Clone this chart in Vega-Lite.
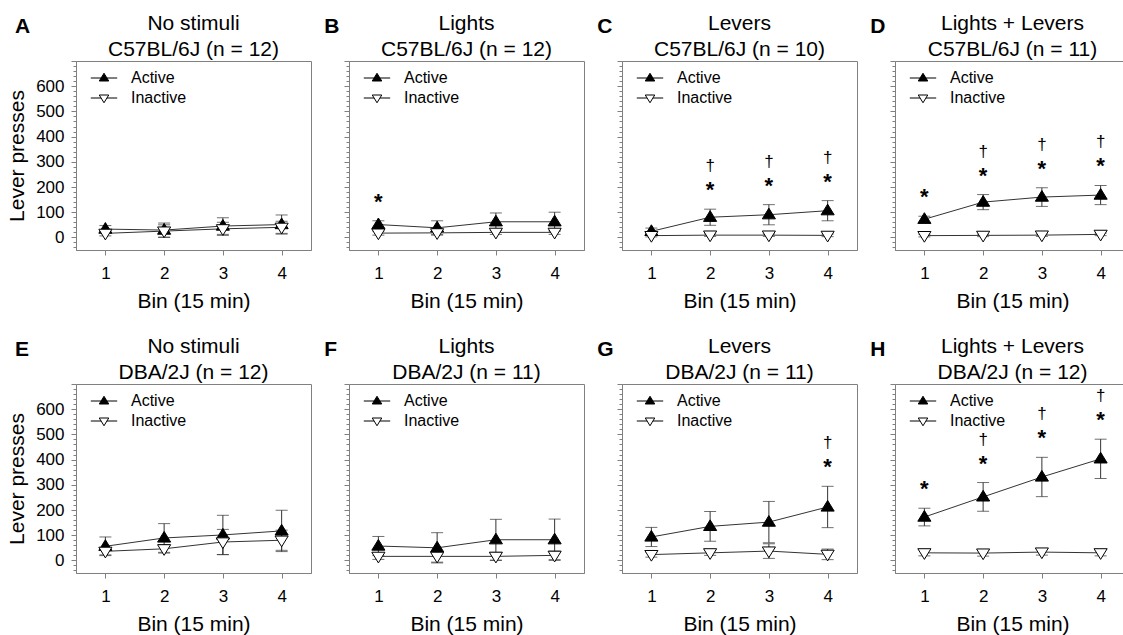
{
  "$schema": "https://vega.github.io/schema/vega-lite/v6.json",
  "padding": {"left": 6, "top": 12, "right": 0, "bottom": 0},
  "background": "white",
  "datasets": {
    "presses": [
      {"panel": "A", "bin": 1, "lever": "Active", "mean": 33, "sem": 14},
      {"panel": "A", "bin": 2, "lever": "Active", "mean": 29, "sem": 28},
      {"panel": "A", "bin": 3, "lever": "Active", "mean": 45, "sem": 33},
      {"panel": "A", "bin": 4, "lever": "Active", "mean": 51, "sem": 38},
      {"panel": "A", "bin": 1, "lever": "Inactive", "mean": 16, "sem": 10},
      {"panel": "A", "bin": 2, "lever": "Inactive", "mean": 25, "sem": 25},
      {"panel": "A", "bin": 3, "lever": "Inactive", "mean": 34, "sem": 26},
      {"panel": "A", "bin": 4, "lever": "Inactive", "mean": 40, "sem": 24},
      {"panel": "B", "bin": 1, "lever": "Active", "mean": 51, "sem": 15, "star": "*"},
      {"panel": "B", "bin": 2, "lever": "Active", "mean": 38, "sem": 28},
      {"panel": "B", "bin": 3, "lever": "Active", "mean": 62, "sem": 35},
      {"panel": "B", "bin": 4, "lever": "Active", "mean": 62, "sem": 38},
      {"panel": "B", "bin": 1, "lever": "Inactive", "mean": 17, "sem": 8},
      {"panel": "B", "bin": 2, "lever": "Inactive", "mean": 18, "sem": 8},
      {"panel": "B", "bin": 3, "lever": "Inactive", "mean": 20, "sem": 8},
      {"panel": "B", "bin": 4, "lever": "Inactive", "mean": 20, "sem": 8},
      {"panel": "C", "bin": 1, "lever": "Active", "mean": 24, "sem": 13},
      {"panel": "C", "bin": 2, "lever": "Active", "mean": 80, "sem": 32, "star": "*", "dagger": "†"},
      {"panel": "C", "bin": 3, "lever": "Active", "mean": 90, "sem": 40, "star": "*", "dagger": "†"},
      {"panel": "C", "bin": 4, "lever": "Active", "mean": 106, "sem": 40, "star": "*", "dagger": "†"},
      {"panel": "C", "bin": 1, "lever": "Inactive", "mean": 7, "sem": 5},
      {"panel": "C", "bin": 2, "lever": "Inactive", "mean": 9, "sem": 5},
      {"panel": "C", "bin": 3, "lever": "Inactive", "mean": 9, "sem": 5},
      {"panel": "C", "bin": 4, "lever": "Inactive", "mean": 8, "sem": 5},
      {"panel": "D", "bin": 1, "lever": "Active", "mean": 72, "sem": 12, "star": "*"},
      {"panel": "D", "bin": 2, "lever": "Active", "mean": 140, "sem": 30, "star": "*", "dagger": "†"},
      {"panel": "D", "bin": 3, "lever": "Active", "mean": 160, "sem": 37, "star": "*", "dagger": "†"},
      {"panel": "D", "bin": 4, "lever": "Active", "mean": 168, "sem": 38, "star": "*", "dagger": "†"},
      {"panel": "D", "bin": 1, "lever": "Inactive", "mean": 7, "sem": 5},
      {"panel": "D", "bin": 2, "lever": "Inactive", "mean": 8, "sem": 5},
      {"panel": "D", "bin": 3, "lever": "Inactive", "mean": 9, "sem": 5},
      {"panel": "D", "bin": 4, "lever": "Inactive", "mean": 12, "sem": 5},
      {"panel": "E", "bin": 1, "lever": "Active", "mean": 56, "sem": 37},
      {"panel": "E", "bin": 2, "lever": "Active", "mean": 89, "sem": 57},
      {"panel": "E", "bin": 3, "lever": "Active", "mean": 101, "sem": 78},
      {"panel": "E", "bin": 4, "lever": "Active", "mean": 117, "sem": 82},
      {"panel": "E", "bin": 1, "lever": "Inactive", "mean": 36, "sem": 14},
      {"panel": "E", "bin": 2, "lever": "Inactive", "mean": 46, "sem": 17},
      {"panel": "E", "bin": 3, "lever": "Inactive", "mean": 73, "sem": 50},
      {"panel": "E", "bin": 4, "lever": "Inactive", "mean": 80, "sem": 40},
      {"panel": "F", "bin": 1, "lever": "Active", "mean": 57, "sem": 38},
      {"panel": "F", "bin": 2, "lever": "Active", "mean": 50, "sem": 60},
      {"panel": "F", "bin": 3, "lever": "Active", "mean": 82, "sem": 81},
      {"panel": "F", "bin": 4, "lever": "Active", "mean": 82, "sem": 82},
      {"panel": "F", "bin": 1, "lever": "Inactive", "mean": 16, "sem": 12},
      {"panel": "F", "bin": 2, "lever": "Inactive", "mean": 16, "sem": 23},
      {"panel": "F", "bin": 3, "lever": "Inactive", "mean": 16, "sem": 16},
      {"panel": "F", "bin": 4, "lever": "Inactive", "mean": 20, "sem": 17},
      {"panel": "G", "bin": 1, "lever": "Active", "mean": 93, "sem": 38},
      {"panel": "G", "bin": 2, "lever": "Active", "mean": 135, "sem": 59},
      {"panel": "G", "bin": 3, "lever": "Active", "mean": 152, "sem": 82},
      {"panel": "G", "bin": 4, "lever": "Active", "mean": 212, "sem": 82, "star": "*", "dagger": "†"},
      {"panel": "G", "bin": 1, "lever": "Inactive", "mean": 23, "sem": 10},
      {"panel": "G", "bin": 2, "lever": "Inactive", "mean": 30, "sem": 10},
      {"panel": "G", "bin": 3, "lever": "Inactive", "mean": 37, "sem": 29},
      {"panel": "G", "bin": 4, "lever": "Inactive", "mean": 24, "sem": 21},
      {"panel": "H", "bin": 1, "lever": "Active", "mean": 172, "sem": 35, "star": "*"},
      {"panel": "H", "bin": 2, "lever": "Active", "mean": 252, "sem": 57, "star": "*", "dagger": "†"},
      {"panel": "H", "bin": 3, "lever": "Active", "mean": 331, "sem": 78, "star": "*", "dagger": "†"},
      {"panel": "H", "bin": 4, "lever": "Active", "mean": 403, "sem": 78, "star": "*", "dagger": "†"},
      {"panel": "H", "bin": 1, "lever": "Inactive", "mean": 30, "sem": 12},
      {"panel": "H", "bin": 2, "lever": "Inactive", "mean": 29, "sem": 12},
      {"panel": "H", "bin": 3, "lever": "Inactive", "mean": 33, "sem": 12},
      {"panel": "H", "bin": 4, "lever": "Inactive", "mean": 30, "sem": 12}
    ]
  },
  "columns": 4,
  "spacing": {"row": 134, "column": 38},
  "bounds": "flush",
  "concat": [
    {
      "width": 235, "height": 189,
      "title": {"text": ["No stimuli", "C57BL/6J (n = 12)"]},
      "data": {"name": "presses"},
      "transform": [{"filter": "datum.panel === 'A'"}],
      "encoding": {
        "x": {"field": "bin", "type": "quantitative", "scale": {"domain": [0.5, 4.5], "nice": false, "zero": false}, "axis": {"title": "Bin (15 min)", "values": [1, 2, 3, 4]}},
        "y": {"field": "mean", "type": "quantitative", "scale": {"domain": [-50, 700], "nice": false, "zero": false}, "axis": {"title": "Lever presses", "values": [-40,-20,0,20,40,60,80,100,120,140,160,180,200,220,240,260,280,300,320,340,360,380,400,420,440,460,480,500,520,540,560,580,600,620,640,660,680,700], "labelExpr": "datum.value % 100 === 0 && datum.value >= 0 && datum.value <= 600 ? datum.label : ''", "tickSize": {"condition": {"test": "datum.value % 100 === 0", "value": 5}, "value": 3}}}
      },
      "layer": [
        {"mark": {"type": "errorbar", "ticks": {"size": 12}, "color": "#333333", "thickness": 1}, "encoding": {"yError": {"field": "sem"}, "detail": {"field": "lever"}}},
        {"mark": {"type": "line", "color": "#333333", "strokeWidth": 1}, "encoding": {"detail": {"field": "lever"}}},
        {"mark": {"type": "point", "filled": true, "stroke": "black", "strokeWidth": 1, "size": 190, "opacity": 1}, "encoding": {"shape": {"field": "lever", "type": "nominal", "scale": {"domain": ["Active", "Inactive"], "range": ["M0,-0.95L0.95,0.6L-0.95,0.6Z", "M0,0.95L0.95,-0.6L-0.95,-0.6Z"]}, "legend": null}, "fill": {"field": "lever", "type": "nominal", "scale": {"domain": ["Active", "Inactive"], "range": ["black", "white"]}, "legend": null}}},
        {"transform": [{"filter": "datum.star"}, {"calculate": "datum.mean + datum.sem", "as": "top"}], "mark": {"type": "text", "fontSize": 22, "fontWeight": "bold", "baseline": "middle", "yOffset": -19}, "encoding": {"y": {"field": "top", "type": "quantitative"}, "text": {"field": "star"}}},
        {"transform": [{"filter": "datum.dagger"}, {"calculate": "datum.mean + datum.sem", "as": "top"}], "mark": {"type": "text", "fontSize": 17, "baseline": "middle", "yOffset": -43}, "encoding": {"y": {"field": "top", "type": "quantitative"}, "text": {"field": "dagger"}}},
        {"transform": [{"filter": "false"}], "mark": {"type": "point", "filled": true, "strokeWidth": 1, "size": 196, "opacity": 1}, "encoding": {"shape": {"field": "lever", "type": "nominal", "scale": {"domain": ["Active", "Inactive"], "range": ["M-2.64,0H-0.58M0.58,0H2.64M0,-0.95L0.95,0.6L-0.95,0.6Z", "M-2.64,0H-0.58M0.58,0H2.64M0,0.95L0.95,-0.6L-0.95,-0.6Z"]}}, "fill": {"field": "lever", "type": "nominal", "scale": {"domain": ["Active", "Inactive"], "range": ["black", "white"]}}, "stroke": {"field": "lever", "type": "nominal", "scale": {"domain": ["Active", "Inactive"], "range": ["black", "black"]}}}},
        {"transform": [{"filter": "datum.bin === 1 && datum.lever === 'Active'"}], "mark": {"type": "text", "text": "A", "fontSize": 21, "fontWeight": "bold", "align": "left", "baseline": "alphabetic", "color": "black"}, "encoding": {"x": {"datum": -0.54}, "y": {"datum": 811}}}
      ],
      "resolve": {"scale": {"shape": "independent", "fill": "independent", "stroke": "independent"}}
    },
    {
      "width": 235, "height": 189,
      "title": {"text": ["Lights", "C57BL/6J (n = 12)"]},
      "data": {"name": "presses"},
      "transform": [{"filter": "datum.panel === 'B'"}],
      "encoding": {
        "x": {"field": "bin", "type": "quantitative", "scale": {"domain": [0.5, 4.5], "nice": false, "zero": false}, "axis": {"title": "Bin (15 min)", "values": [1, 2, 3, 4]}},
        "y": {"field": "mean", "type": "quantitative", "scale": {"domain": [-50, 700], "nice": false, "zero": false}, "axis": {"title": null, "labels": false, "values": [-40,-20,0,20,40,60,80,100,120,140,160,180,200,220,240,260,280,300,320,340,360,380,400,420,440,460,480,500,520,540,560,580,600,620,640,660,680,700], "tickSize": {"condition": {"test": "datum.value % 100 === 0", "value": 5}, "value": 3}}}
      },
      "layer": [
        {"mark": {"type": "errorbar", "ticks": {"size": 12}, "color": "#333333", "thickness": 1}, "encoding": {"yError": {"field": "sem"}, "detail": {"field": "lever"}}},
        {"mark": {"type": "line", "color": "#333333", "strokeWidth": 1}, "encoding": {"detail": {"field": "lever"}}},
        {"mark": {"type": "point", "filled": true, "stroke": "black", "strokeWidth": 1, "size": 190, "opacity": 1}, "encoding": {"shape": {"field": "lever", "type": "nominal", "scale": {"domain": ["Active", "Inactive"], "range": ["M0,-0.95L0.95,0.6L-0.95,0.6Z", "M0,0.95L0.95,-0.6L-0.95,-0.6Z"]}, "legend": null}, "fill": {"field": "lever", "type": "nominal", "scale": {"domain": ["Active", "Inactive"], "range": ["black", "white"]}, "legend": null}}},
        {"transform": [{"filter": "datum.star"}, {"calculate": "datum.mean + datum.sem", "as": "top"}], "mark": {"type": "text", "fontSize": 22, "fontWeight": "bold", "baseline": "middle", "yOffset": -19}, "encoding": {"y": {"field": "top", "type": "quantitative"}, "text": {"field": "star"}}},
        {"transform": [{"filter": "datum.dagger"}, {"calculate": "datum.mean + datum.sem", "as": "top"}], "mark": {"type": "text", "fontSize": 17, "baseline": "middle", "yOffset": -43}, "encoding": {"y": {"field": "top", "type": "quantitative"}, "text": {"field": "dagger"}}},
        {"transform": [{"filter": "false"}], "mark": {"type": "point", "filled": true, "strokeWidth": 1, "size": 196, "opacity": 1}, "encoding": {"shape": {"field": "lever", "type": "nominal", "scale": {"domain": ["Active", "Inactive"], "range": ["M-2.64,0H-0.58M0.58,0H2.64M0,-0.95L0.95,0.6L-0.95,0.6Z", "M-2.64,0H-0.58M0.58,0H2.64M0,0.95L0.95,-0.6L-0.95,-0.6Z"]}}, "fill": {"field": "lever", "type": "nominal", "scale": {"domain": ["Active", "Inactive"], "range": ["black", "white"]}}, "stroke": {"field": "lever", "type": "nominal", "scale": {"domain": ["Active", "Inactive"], "range": ["black", "black"]}}}},
        {"transform": [{"filter": "datum.bin === 1 && datum.lever === 'Active'"}], "mark": {"type": "text", "text": "B", "fontSize": 21, "fontWeight": "bold", "align": "left", "baseline": "alphabetic", "color": "black"}, "encoding": {"x": {"datum": 0.08}, "y": {"datum": 811}}}
      ],
      "resolve": {"scale": {"shape": "independent", "fill": "independent", "stroke": "independent"}}
    },
    {
      "width": 235, "height": 189,
      "title": {"text": ["Levers", "C57BL/6J (n = 10)"]},
      "data": {"name": "presses"},
      "transform": [{"filter": "datum.panel === 'C'"}],
      "encoding": {
        "x": {"field": "bin", "type": "quantitative", "scale": {"domain": [0.5, 4.5], "nice": false, "zero": false}, "axis": {"title": "Bin (15 min)", "values": [1, 2, 3, 4]}},
        "y": {"field": "mean", "type": "quantitative", "scale": {"domain": [-50, 700], "nice": false, "zero": false}, "axis": {"title": null, "labels": false, "values": [-40,-20,0,20,40,60,80,100,120,140,160,180,200,220,240,260,280,300,320,340,360,380,400,420,440,460,480,500,520,540,560,580,600,620,640,660,680,700], "tickSize": {"condition": {"test": "datum.value % 100 === 0", "value": 5}, "value": 3}}}
      },
      "layer": [
        {"mark": {"type": "errorbar", "ticks": {"size": 12}, "color": "#333333", "thickness": 1}, "encoding": {"yError": {"field": "sem"}, "detail": {"field": "lever"}}},
        {"mark": {"type": "line", "color": "#333333", "strokeWidth": 1}, "encoding": {"detail": {"field": "lever"}}},
        {"mark": {"type": "point", "filled": true, "stroke": "black", "strokeWidth": 1, "size": 190, "opacity": 1}, "encoding": {"shape": {"field": "lever", "type": "nominal", "scale": {"domain": ["Active", "Inactive"], "range": ["M0,-0.95L0.95,0.6L-0.95,0.6Z", "M0,0.95L0.95,-0.6L-0.95,-0.6Z"]}, "legend": null}, "fill": {"field": "lever", "type": "nominal", "scale": {"domain": ["Active", "Inactive"], "range": ["black", "white"]}, "legend": null}}},
        {"transform": [{"filter": "datum.star"}, {"calculate": "datum.mean + datum.sem", "as": "top"}], "mark": {"type": "text", "fontSize": 22, "fontWeight": "bold", "baseline": "middle", "yOffset": -19}, "encoding": {"y": {"field": "top", "type": "quantitative"}, "text": {"field": "star"}}},
        {"transform": [{"filter": "datum.dagger"}, {"calculate": "datum.mean + datum.sem", "as": "top"}], "mark": {"type": "text", "fontSize": 17, "baseline": "middle", "yOffset": -43}, "encoding": {"y": {"field": "top", "type": "quantitative"}, "text": {"field": "dagger"}}},
        {"transform": [{"filter": "false"}], "mark": {"type": "point", "filled": true, "strokeWidth": 1, "size": 196, "opacity": 1}, "encoding": {"shape": {"field": "lever", "type": "nominal", "scale": {"domain": ["Active", "Inactive"], "range": ["M-2.64,0H-0.58M0.58,0H2.64M0,-0.95L0.95,0.6L-0.95,0.6Z", "M-2.64,0H-0.58M0.58,0H2.64M0,0.95L0.95,-0.6L-0.95,-0.6Z"]}}, "fill": {"field": "lever", "type": "nominal", "scale": {"domain": ["Active", "Inactive"], "range": ["black", "white"]}}, "stroke": {"field": "lever", "type": "nominal", "scale": {"domain": ["Active", "Inactive"], "range": ["black", "black"]}}}},
        {"transform": [{"filter": "datum.bin === 1 && datum.lever === 'Active'"}], "mark": {"type": "text", "text": "C", "fontSize": 21, "fontWeight": "bold", "align": "left", "baseline": "alphabetic", "color": "black"}, "encoding": {"x": {"datum": 0.08}, "y": {"datum": 811}}}
      ],
      "resolve": {"scale": {"shape": "independent", "fill": "independent", "stroke": "independent"}}
    },
    {
      "width": 235, "height": 189,
      "title": {"text": ["Lights + Levers", "C57BL/6J (n = 11)"]},
      "data": {"name": "presses"},
      "transform": [{"filter": "datum.panel === 'D'"}],
      "encoding": {
        "x": {"field": "bin", "type": "quantitative", "scale": {"domain": [0.5, 4.5], "nice": false, "zero": false}, "axis": {"title": "Bin (15 min)", "values": [1, 2, 3, 4]}},
        "y": {"field": "mean", "type": "quantitative", "scale": {"domain": [-50, 700], "nice": false, "zero": false}, "axis": {"title": null, "labels": false, "values": [-40,-20,0,20,40,60,80,100,120,140,160,180,200,220,240,260,280,300,320,340,360,380,400,420,440,460,480,500,520,540,560,580,600,620,640,660,680,700], "tickSize": {"condition": {"test": "datum.value % 100 === 0", "value": 5}, "value": 3}}}
      },
      "layer": [
        {"mark": {"type": "errorbar", "ticks": {"size": 12}, "color": "#333333", "thickness": 1}, "encoding": {"yError": {"field": "sem"}, "detail": {"field": "lever"}}},
        {"mark": {"type": "line", "color": "#333333", "strokeWidth": 1}, "encoding": {"detail": {"field": "lever"}}},
        {"mark": {"type": "point", "filled": true, "stroke": "black", "strokeWidth": 1, "size": 190, "opacity": 1}, "encoding": {"shape": {"field": "lever", "type": "nominal", "scale": {"domain": ["Active", "Inactive"], "range": ["M0,-0.95L0.95,0.6L-0.95,0.6Z", "M0,0.95L0.95,-0.6L-0.95,-0.6Z"]}, "legend": null}, "fill": {"field": "lever", "type": "nominal", "scale": {"domain": ["Active", "Inactive"], "range": ["black", "white"]}, "legend": null}}},
        {"transform": [{"filter": "datum.star"}, {"calculate": "datum.mean + datum.sem", "as": "top"}], "mark": {"type": "text", "fontSize": 22, "fontWeight": "bold", "baseline": "middle", "yOffset": -19}, "encoding": {"y": {"field": "top", "type": "quantitative"}, "text": {"field": "star"}}},
        {"transform": [{"filter": "datum.dagger"}, {"calculate": "datum.mean + datum.sem", "as": "top"}], "mark": {"type": "text", "fontSize": 17, "baseline": "middle", "yOffset": -43}, "encoding": {"y": {"field": "top", "type": "quantitative"}, "text": {"field": "dagger"}}},
        {"transform": [{"filter": "false"}], "mark": {"type": "point", "filled": true, "strokeWidth": 1, "size": 196, "opacity": 1}, "encoding": {"shape": {"field": "lever", "type": "nominal", "scale": {"domain": ["Active", "Inactive"], "range": ["M-2.64,0H-0.58M0.58,0H2.64M0,-0.95L0.95,0.6L-0.95,0.6Z", "M-2.64,0H-0.58M0.58,0H2.64M0,0.95L0.95,-0.6L-0.95,-0.6Z"]}}, "fill": {"field": "lever", "type": "nominal", "scale": {"domain": ["Active", "Inactive"], "range": ["black", "white"]}}, "stroke": {"field": "lever", "type": "nominal", "scale": {"domain": ["Active", "Inactive"], "range": ["black", "black"]}}}},
        {"transform": [{"filter": "datum.bin === 1 && datum.lever === 'Active'"}], "mark": {"type": "text", "text": "D", "fontSize": 21, "fontWeight": "bold", "align": "left", "baseline": "alphabetic", "color": "black"}, "encoding": {"x": {"datum": 0.08}, "y": {"datum": 811}}}
      ],
      "resolve": {"scale": {"shape": "independent", "fill": "independent", "stroke": "independent"}}
    },
    {
      "width": 235, "height": 189,
      "title": {"text": ["No stimuli", "DBA/2J (n = 12)"]},
      "data": {"name": "presses"},
      "transform": [{"filter": "datum.panel === 'E'"}],
      "encoding": {
        "x": {"field": "bin", "type": "quantitative", "scale": {"domain": [0.5, 4.5], "nice": false, "zero": false}, "axis": {"title": "Bin (15 min)", "values": [1, 2, 3, 4]}},
        "y": {"field": "mean", "type": "quantitative", "scale": {"domain": [-50, 700], "nice": false, "zero": false}, "axis": {"title": "Lever presses", "values": [-40,-20,0,20,40,60,80,100,120,140,160,180,200,220,240,260,280,300,320,340,360,380,400,420,440,460,480,500,520,540,560,580,600,620,640,660,680,700], "labelExpr": "datum.value % 100 === 0 && datum.value >= 0 && datum.value <= 600 ? datum.label : ''", "tickSize": {"condition": {"test": "datum.value % 100 === 0", "value": 5}, "value": 3}}}
      },
      "layer": [
        {"mark": {"type": "errorbar", "ticks": {"size": 12}, "color": "#333333", "thickness": 1}, "encoding": {"yError": {"field": "sem"}, "detail": {"field": "lever"}}},
        {"mark": {"type": "line", "color": "#333333", "strokeWidth": 1}, "encoding": {"detail": {"field": "lever"}}},
        {"mark": {"type": "point", "filled": true, "stroke": "black", "strokeWidth": 1, "size": 190, "opacity": 1}, "encoding": {"shape": {"field": "lever", "type": "nominal", "scale": {"domain": ["Active", "Inactive"], "range": ["M0,-0.95L0.95,0.6L-0.95,0.6Z", "M0,0.95L0.95,-0.6L-0.95,-0.6Z"]}, "legend": null}, "fill": {"field": "lever", "type": "nominal", "scale": {"domain": ["Active", "Inactive"], "range": ["black", "white"]}, "legend": null}}},
        {"transform": [{"filter": "datum.star"}, {"calculate": "datum.mean + datum.sem", "as": "top"}], "mark": {"type": "text", "fontSize": 22, "fontWeight": "bold", "baseline": "middle", "yOffset": -19}, "encoding": {"y": {"field": "top", "type": "quantitative"}, "text": {"field": "star"}}},
        {"transform": [{"filter": "datum.dagger"}, {"calculate": "datum.mean + datum.sem", "as": "top"}], "mark": {"type": "text", "fontSize": 17, "baseline": "middle", "yOffset": -43}, "encoding": {"y": {"field": "top", "type": "quantitative"}, "text": {"field": "dagger"}}},
        {"transform": [{"filter": "false"}], "mark": {"type": "point", "filled": true, "strokeWidth": 1, "size": 196, "opacity": 1}, "encoding": {"shape": {"field": "lever", "type": "nominal", "scale": {"domain": ["Active", "Inactive"], "range": ["M-2.64,0H-0.58M0.58,0H2.64M0,-0.95L0.95,0.6L-0.95,0.6Z", "M-2.64,0H-0.58M0.58,0H2.64M0,0.95L0.95,-0.6L-0.95,-0.6Z"]}}, "fill": {"field": "lever", "type": "nominal", "scale": {"domain": ["Active", "Inactive"], "range": ["black", "white"]}}, "stroke": {"field": "lever", "type": "nominal", "scale": {"domain": ["Active", "Inactive"], "range": ["black", "black"]}}}},
        {"transform": [{"filter": "datum.bin === 1 && datum.lever === 'Active'"}], "mark": {"type": "text", "text": "E", "fontSize": 21, "fontWeight": "bold", "align": "left", "baseline": "alphabetic", "color": "black"}, "encoding": {"x": {"datum": -0.54}, "y": {"datum": 811}}}
      ],
      "resolve": {"scale": {"shape": "independent", "fill": "independent", "stroke": "independent"}}
    },
    {
      "width": 235, "height": 189,
      "title": {"text": ["Lights", "DBA/2J (n = 11)"]},
      "data": {"name": "presses"},
      "transform": [{"filter": "datum.panel === 'F'"}],
      "encoding": {
        "x": {"field": "bin", "type": "quantitative", "scale": {"domain": [0.5, 4.5], "nice": false, "zero": false}, "axis": {"title": "Bin (15 min)", "values": [1, 2, 3, 4]}},
        "y": {"field": "mean", "type": "quantitative", "scale": {"domain": [-50, 700], "nice": false, "zero": false}, "axis": {"title": null, "labels": false, "values": [-40,-20,0,20,40,60,80,100,120,140,160,180,200,220,240,260,280,300,320,340,360,380,400,420,440,460,480,500,520,540,560,580,600,620,640,660,680,700], "tickSize": {"condition": {"test": "datum.value % 100 === 0", "value": 5}, "value": 3}}}
      },
      "layer": [
        {"mark": {"type": "errorbar", "ticks": {"size": 12}, "color": "#333333", "thickness": 1}, "encoding": {"yError": {"field": "sem"}, "detail": {"field": "lever"}}},
        {"mark": {"type": "line", "color": "#333333", "strokeWidth": 1}, "encoding": {"detail": {"field": "lever"}}},
        {"mark": {"type": "point", "filled": true, "stroke": "black", "strokeWidth": 1, "size": 190, "opacity": 1}, "encoding": {"shape": {"field": "lever", "type": "nominal", "scale": {"domain": ["Active", "Inactive"], "range": ["M0,-0.95L0.95,0.6L-0.95,0.6Z", "M0,0.95L0.95,-0.6L-0.95,-0.6Z"]}, "legend": null}, "fill": {"field": "lever", "type": "nominal", "scale": {"domain": ["Active", "Inactive"], "range": ["black", "white"]}, "legend": null}}},
        {"transform": [{"filter": "datum.star"}, {"calculate": "datum.mean + datum.sem", "as": "top"}], "mark": {"type": "text", "fontSize": 22, "fontWeight": "bold", "baseline": "middle", "yOffset": -19}, "encoding": {"y": {"field": "top", "type": "quantitative"}, "text": {"field": "star"}}},
        {"transform": [{"filter": "datum.dagger"}, {"calculate": "datum.mean + datum.sem", "as": "top"}], "mark": {"type": "text", "fontSize": 17, "baseline": "middle", "yOffset": -43}, "encoding": {"y": {"field": "top", "type": "quantitative"}, "text": {"field": "dagger"}}},
        {"transform": [{"filter": "false"}], "mark": {"type": "point", "filled": true, "strokeWidth": 1, "size": 196, "opacity": 1}, "encoding": {"shape": {"field": "lever", "type": "nominal", "scale": {"domain": ["Active", "Inactive"], "range": ["M-2.64,0H-0.58M0.58,0H2.64M0,-0.95L0.95,0.6L-0.95,0.6Z", "M-2.64,0H-0.58M0.58,0H2.64M0,0.95L0.95,-0.6L-0.95,-0.6Z"]}}, "fill": {"field": "lever", "type": "nominal", "scale": {"domain": ["Active", "Inactive"], "range": ["black", "white"]}}, "stroke": {"field": "lever", "type": "nominal", "scale": {"domain": ["Active", "Inactive"], "range": ["black", "black"]}}}},
        {"transform": [{"filter": "datum.bin === 1 && datum.lever === 'Active'"}], "mark": {"type": "text", "text": "F", "fontSize": 21, "fontWeight": "bold", "align": "left", "baseline": "alphabetic", "color": "black"}, "encoding": {"x": {"datum": 0.08}, "y": {"datum": 811}}}
      ],
      "resolve": {"scale": {"shape": "independent", "fill": "independent", "stroke": "independent"}}
    },
    {
      "width": 235, "height": 189,
      "title": {"text": ["Levers", "DBA/2J (n = 11)"]},
      "data": {"name": "presses"},
      "transform": [{"filter": "datum.panel === 'G'"}],
      "encoding": {
        "x": {"field": "bin", "type": "quantitative", "scale": {"domain": [0.5, 4.5], "nice": false, "zero": false}, "axis": {"title": "Bin (15 min)", "values": [1, 2, 3, 4]}},
        "y": {"field": "mean", "type": "quantitative", "scale": {"domain": [-50, 700], "nice": false, "zero": false}, "axis": {"title": null, "labels": false, "values": [-40,-20,0,20,40,60,80,100,120,140,160,180,200,220,240,260,280,300,320,340,360,380,400,420,440,460,480,500,520,540,560,580,600,620,640,660,680,700], "tickSize": {"condition": {"test": "datum.value % 100 === 0", "value": 5}, "value": 3}}}
      },
      "layer": [
        {"mark": {"type": "errorbar", "ticks": {"size": 12}, "color": "#333333", "thickness": 1}, "encoding": {"yError": {"field": "sem"}, "detail": {"field": "lever"}}},
        {"mark": {"type": "line", "color": "#333333", "strokeWidth": 1}, "encoding": {"detail": {"field": "lever"}}},
        {"mark": {"type": "point", "filled": true, "stroke": "black", "strokeWidth": 1, "size": 190, "opacity": 1}, "encoding": {"shape": {"field": "lever", "type": "nominal", "scale": {"domain": ["Active", "Inactive"], "range": ["M0,-0.95L0.95,0.6L-0.95,0.6Z", "M0,0.95L0.95,-0.6L-0.95,-0.6Z"]}, "legend": null}, "fill": {"field": "lever", "type": "nominal", "scale": {"domain": ["Active", "Inactive"], "range": ["black", "white"]}, "legend": null}}},
        {"transform": [{"filter": "datum.star"}, {"calculate": "datum.mean + datum.sem", "as": "top"}], "mark": {"type": "text", "fontSize": 22, "fontWeight": "bold", "baseline": "middle", "yOffset": -19}, "encoding": {"y": {"field": "top", "type": "quantitative"}, "text": {"field": "star"}}},
        {"transform": [{"filter": "datum.dagger"}, {"calculate": "datum.mean + datum.sem", "as": "top"}], "mark": {"type": "text", "fontSize": 17, "baseline": "middle", "yOffset": -43}, "encoding": {"y": {"field": "top", "type": "quantitative"}, "text": {"field": "dagger"}}},
        {"transform": [{"filter": "false"}], "mark": {"type": "point", "filled": true, "strokeWidth": 1, "size": 196, "opacity": 1}, "encoding": {"shape": {"field": "lever", "type": "nominal", "scale": {"domain": ["Active", "Inactive"], "range": ["M-2.64,0H-0.58M0.58,0H2.64M0,-0.95L0.95,0.6L-0.95,0.6Z", "M-2.64,0H-0.58M0.58,0H2.64M0,0.95L0.95,-0.6L-0.95,-0.6Z"]}}, "fill": {"field": "lever", "type": "nominal", "scale": {"domain": ["Active", "Inactive"], "range": ["black", "white"]}}, "stroke": {"field": "lever", "type": "nominal", "scale": {"domain": ["Active", "Inactive"], "range": ["black", "black"]}}}},
        {"transform": [{"filter": "datum.bin === 1 && datum.lever === 'Active'"}], "mark": {"type": "text", "text": "G", "fontSize": 21, "fontWeight": "bold", "align": "left", "baseline": "alphabetic", "color": "black"}, "encoding": {"x": {"datum": 0.08}, "y": {"datum": 811}}}
      ],
      "resolve": {"scale": {"shape": "independent", "fill": "independent", "stroke": "independent"}}
    },
    {
      "width": 235, "height": 189,
      "title": {"text": ["Lights + Levers", "DBA/2J (n = 12)"]},
      "data": {"name": "presses"},
      "transform": [{"filter": "datum.panel === 'H'"}],
      "encoding": {
        "x": {"field": "bin", "type": "quantitative", "scale": {"domain": [0.5, 4.5], "nice": false, "zero": false}, "axis": {"title": "Bin (15 min)", "values": [1, 2, 3, 4]}},
        "y": {"field": "mean", "type": "quantitative", "scale": {"domain": [-50, 700], "nice": false, "zero": false}, "axis": {"title": null, "labels": false, "values": [-40,-20,0,20,40,60,80,100,120,140,160,180,200,220,240,260,280,300,320,340,360,380,400,420,440,460,480,500,520,540,560,580,600,620,640,660,680,700], "tickSize": {"condition": {"test": "datum.value % 100 === 0", "value": 5}, "value": 3}}}
      },
      "layer": [
        {"mark": {"type": "errorbar", "ticks": {"size": 12}, "color": "#333333", "thickness": 1}, "encoding": {"yError": {"field": "sem"}, "detail": {"field": "lever"}}},
        {"mark": {"type": "line", "color": "#333333", "strokeWidth": 1}, "encoding": {"detail": {"field": "lever"}}},
        {"mark": {"type": "point", "filled": true, "stroke": "black", "strokeWidth": 1, "size": 190, "opacity": 1}, "encoding": {"shape": {"field": "lever", "type": "nominal", "scale": {"domain": ["Active", "Inactive"], "range": ["M0,-0.95L0.95,0.6L-0.95,0.6Z", "M0,0.95L0.95,-0.6L-0.95,-0.6Z"]}, "legend": null}, "fill": {"field": "lever", "type": "nominal", "scale": {"domain": ["Active", "Inactive"], "range": ["black", "white"]}, "legend": null}}},
        {"transform": [{"filter": "datum.star"}, {"calculate": "datum.mean + datum.sem", "as": "top"}], "mark": {"type": "text", "fontSize": 22, "fontWeight": "bold", "baseline": "middle", "yOffset": -19}, "encoding": {"y": {"field": "top", "type": "quantitative"}, "text": {"field": "star"}}},
        {"transform": [{"filter": "datum.dagger"}, {"calculate": "datum.mean + datum.sem", "as": "top"}], "mark": {"type": "text", "fontSize": 17, "baseline": "middle", "yOffset": -43}, "encoding": {"y": {"field": "top", "type": "quantitative"}, "text": {"field": "dagger"}}},
        {"transform": [{"filter": "false"}], "mark": {"type": "point", "filled": true, "strokeWidth": 1, "size": 196, "opacity": 1}, "encoding": {"shape": {"field": "lever", "type": "nominal", "scale": {"domain": ["Active", "Inactive"], "range": ["M-2.64,0H-0.58M0.58,0H2.64M0,-0.95L0.95,0.6L-0.95,0.6Z", "M-2.64,0H-0.58M0.58,0H2.64M0,0.95L0.95,-0.6L-0.95,-0.6Z"]}}, "fill": {"field": "lever", "type": "nominal", "scale": {"domain": ["Active", "Inactive"], "range": ["black", "white"]}}, "stroke": {"field": "lever", "type": "nominal", "scale": {"domain": ["Active", "Inactive"], "range": ["black", "black"]}}}},
        {"transform": [{"filter": "datum.bin === 1 && datum.lever === 'Active'"}], "mark": {"type": "text", "text": "H", "fontSize": 21, "fontWeight": "bold", "align": "left", "baseline": "alphabetic", "color": "black"}, "encoding": {"x": {"datum": 0.08}, "y": {"datum": 811}}}
      ],
      "resolve": {"scale": {"shape": "independent", "fill": "independent", "stroke": "independent"}}
    }
  ],
  "config": {
    "font": "Liberation Sans",
    "view": {"stroke": "#808080", "strokeWidth": 1},
    "title": {"fontSize": 21, "fontWeight": "normal", "lineHeight": 26, "offset": -44, "color": "black"},
    "axis": {"grid": false, "labelFontSize": 17, "titleFontSize": 21, "titleFontWeight": "normal", "labelColor": "black", "titleColor": "black", "domainColor": "#808080", "tickColor": "#808080"},
    "axisX": {"tickSize": 5, "labelPadding": 10, "titlePadding": 9},
    "axisY": {"labelPadding": 7, "titlePadding": 8},
    "legend": {"title": null, "orient": "none", "legendX": 20, "legendY": 9, "padding": 0, "labelOffset": 19, "labelFontSize": 16, "labelColor": "black", "symbolStrokeWidth": 1, "rowPadding": 4}
  }
}
